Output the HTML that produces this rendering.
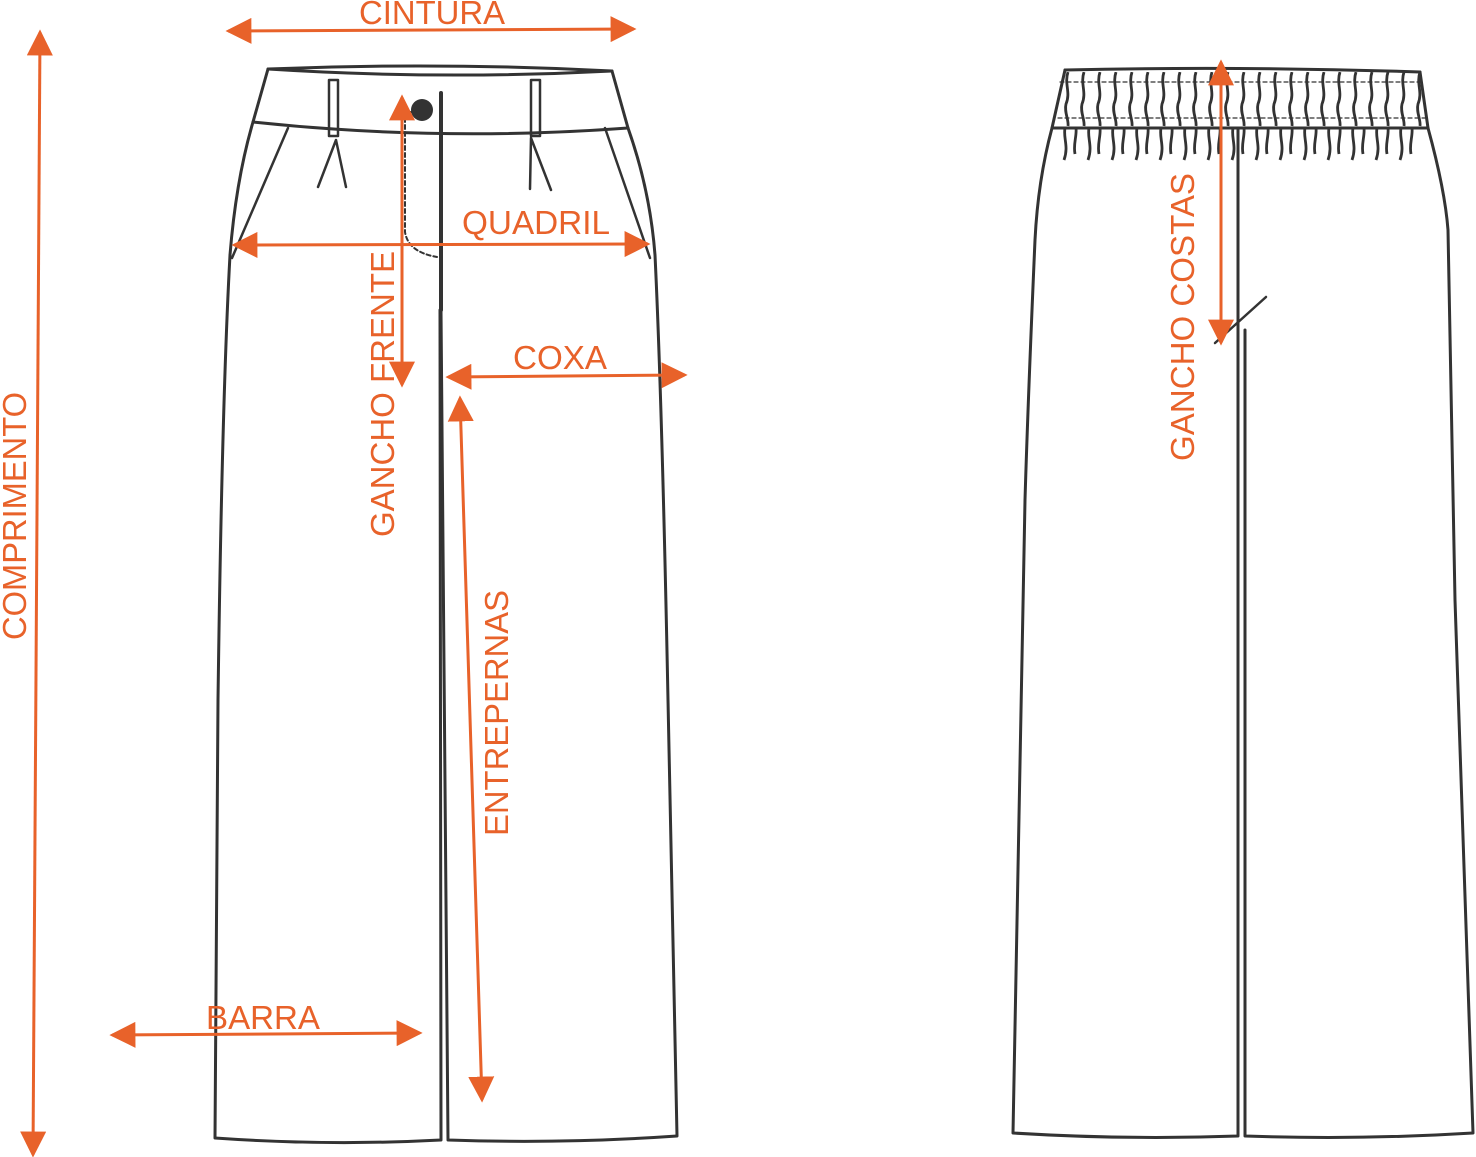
<!DOCTYPE html>
<html><head><meta charset="utf-8"><style>html,body{margin:0;padding:0;background:#fff}svg{display:block}</style></head>
<body>
<svg width="1476" height="1157" viewBox="0 0 1476 1157" xmlns="http://www.w3.org/2000/svg">
<defs>
<marker id="ah" viewBox="0 0 10 10" refX="9" refY="5" markerWidth="26" markerHeight="26" markerUnits="userSpaceOnUse" orient="auto-start-reverse">
<path d="M0,0 L10,5 L0,10 Z" fill="#e8622a"/></marker>
<pattern id="gth" x="1060" y="70" width="16" height="58" patternUnits="userSpaceOnUse">
<path d="M8,2 C4,14 11,22 6,34 C4,42 9,50 8,56" stroke="#333" stroke-width="2.8" fill="none"/>
</pattern>
<pattern id="gth2" x="1060" y="128" width="24" height="40" patternUnits="userSpaceOnUse">
<path d="M5,0 C3,10 9,18 4,32 M16,0 C17,8 13,16 15,26" stroke="#333" stroke-width="2.8" fill="none"/>
</pattern>
</defs>
<g fill="none" stroke="#333" stroke-width="3" stroke-linejoin="round" stroke-linecap="round">
<path d="M268,69 Q440,62 612,71 Q440,80 268,69 Z"/>
<path d="M253,122 Q440,142 628,128"/>
<path d="M268,69 L253,122 Q236,180 230,255 Q222,400 218,700 L215,1138 Q328,1146 441,1140 L440,310"/>
<path d="M612,71 L628,128 Q650,190 655,255 Q662,400 668,700 L677,1136 Q562,1144 448,1140 L441,310"/>
<path d="M441,93 L441,310" stroke-width="4"/>
<circle cx="422" cy="110" r="11" fill="#333" stroke="none"/>
<path d="M404,112 L416,112" stroke-width="2"/>
<path d="M405,118 L405,232 Q408,252 437,257" stroke-width="2" stroke-dasharray="4,3"/>
<rect x="329" y="80" width="9" height="56" stroke-width="2.5"/>
<rect x="531" y="80" width="9" height="56" stroke-width="2.5"/>
<path d="M336,140 L318,187 M336,140 L346,187 M531,138 L530,189 M531,138 L551,190" stroke-width="2.5"/>
<path d="M288,128 L232,258 M605,128 L650,258" stroke-width="2.5"/>
<rect x="1060" y="72" width="362" height="56" fill="url(#gth)" stroke="none"/>
<rect x="1062" y="128" width="360" height="34" fill="url(#gth2)" stroke="none"/>
<path d="M1065,70 Q1240,66 1420,72"/>
<path d="M1052,128 L1428,128"/>
<path d="M1060,82 L1424,82 M1058,118 L1426,118" stroke-width="1.2" stroke-dasharray="4,3"/>
<path d="M1065,70 L1052,128 Q1038,180 1035,240 Q1028,400 1025,500 L1013,1133 Q1125,1140 1238,1136 L1238,128"/>
<path d="M1420,72 L1428,128 Q1445,190 1448,230 Q1452,400 1455,600 L1473,1133 Q1360,1140 1245,1136 L1245,330"/>
<path d="M1215,343 L1266,297" stroke-width="2.5"/>
</g>
<g stroke="#e8622a" stroke-width="3" fill="none">
<line x1="228" y1="31" x2="634" y2="29" marker-start="url(#ah)" marker-end="url(#ah)"/>
<line x1="40" y1="32" x2="33" y2="1155" marker-start="url(#ah)" marker-end="url(#ah)"/>
<line x1="234" y1="245" x2="648" y2="244" marker-start="url(#ah)" marker-end="url(#ah)"/>
<line x1="402" y1="97" x2="402" y2="385" marker-start="url(#ah)" marker-end="url(#ah)"/>
<line x1="448" y1="377" x2="685" y2="375" marker-start="url(#ah)" marker-end="url(#ah)"/>
<line x1="460" y1="398" x2="482" y2="1100" marker-start="url(#ah)" marker-end="url(#ah)"/>
<line x1="112" y1="1035" x2="420" y2="1033" marker-start="url(#ah)" marker-end="url(#ah)"/>
<line x1="1221" y1="62" x2="1221" y2="343" marker-start="url(#ah)" marker-end="url(#ah)"/>
</g>
<g fill="#e8622a" font-family="Liberation Sans, sans-serif" font-size="33">
<text x="432" y="24" text-anchor="middle" textLength="146" lengthAdjust="spacingAndGlyphs">CINTURA</text>
<text x="536" y="234" text-anchor="middle" textLength="148" lengthAdjust="spacingAndGlyphs">QUADRIL</text>
<text x="560" y="369" text-anchor="middle" textLength="94" lengthAdjust="spacingAndGlyphs">COXA</text>
<text x="263" y="1029" text-anchor="middle" textLength="114" lengthAdjust="spacingAndGlyphs">BARRA</text>
<text transform="translate(26,516) rotate(-90)" text-anchor="middle" textLength="248" lengthAdjust="spacingAndGlyphs">COMPRIMENTO</text>
<text transform="translate(394,394) rotate(-90)" text-anchor="middle" textLength="286" lengthAdjust="spacingAndGlyphs">GANCHO FRENTE</text>
<text transform="translate(508,713) rotate(-90)" text-anchor="middle" textLength="246" lengthAdjust="spacingAndGlyphs">ENTREPERNAS</text>
<text transform="translate(1194,317) rotate(-90)" text-anchor="middle" textLength="288" lengthAdjust="spacingAndGlyphs">GANCHO COSTAS</text>
</g>
</svg>
</body></html>
